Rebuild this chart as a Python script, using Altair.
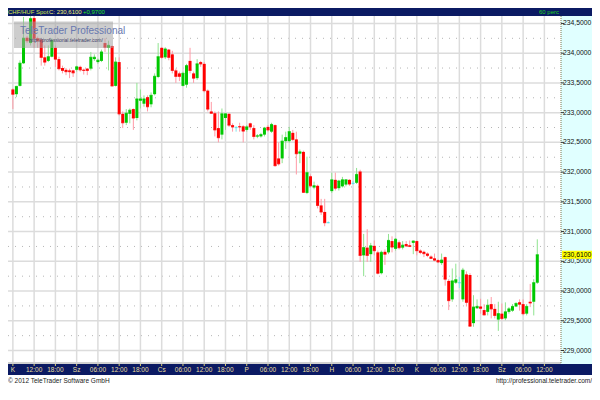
import altair as alt
import pandas as pd

# ---- hourly CHF/HUF candles ----
opens = [
    233.39, 233.31, 233.45, 233.83, 234.26, 234.17, 234.59, 234.25, 234.23, 233.93,
    233.87, 233.94, 234.09, 233.90, 233.75, 233.72, 233.71, 233.71, 233.72, 233.77,
    233.72, 233.74, 233.74, 233.90, 233.85, 233.87, 234.17, 234.09, 234.12, 233.45,
    233.85, 232.98, 232.83, 232.98, 233.06, 232.91, 233.20, 233.15, 233.26, 233.14,
    233.31, 233.60, 234.09, 233.93, 234.06, 233.98, 233.71, 233.66, 233.45, 233.47,
    233.87, 233.66, 233.58, 233.85, 233.82, 233.37, 233.02, 232.99, 232.74, 232.63,
    232.91, 232.98, 232.79, 232.75, 232.77, 232.77, 232.71, 232.82, 232.74, 232.60,
    232.60, 232.63, 232.76, 232.68, 232.79, 232.23, 232.23, 232.52, 232.52, 232.66,
    232.55, 232.31, 232.34, 231.65, 231.93, 231.74, 231.77, 231.44, 231.33, 231.15,
    231.68, 231.87, 231.73, 231.76, 231.79, 231.87, 231.81, 231.82, 232.01, 230.60,
    230.73, 230.62, 230.76, 230.65, 230.30, 230.66, 230.65, 230.84, 230.71, 230.82,
    230.73, 230.79, 230.77, 230.81, 230.84, 230.68, 230.66, 230.63, 230.58, 230.55,
    230.52, 230.47, 230.57, 230.17, 229.86, 230.14, 230.14, 229.86, 230.28, 230.27,
    229.46, 229.71, 229.74, 229.68, 229.65, 229.78, 229.70, 229.52, 229.62, 229.54,
    229.65, 229.67, 229.74, 229.81, 229.78, 229.62, 229.82, 229.82, 230.14,
]
highs = [
    233.41, 233.45, 233.88, 234.61, 234.29, 234.63, 234.63, 234.28, 234.26, 234.13,
    234.13, 234.25, 234.13, 233.94, 233.79, 233.75, 233.74, 233.72, 233.79, 233.79,
    233.74, 233.75, 234.02, 233.98, 233.91, 234.06, 234.25, 234.21, 234.13, 233.93,
    233.93, 233.02, 233.06, 233.07, 233.07, 233.50, 233.39, 233.29, 233.29, 233.34,
    233.66, 234.17, 234.10, 234.10, 234.07, 234.04, 233.74, 233.69, 233.69, 233.82,
    234.09, 233.69, 233.90, 233.87, 233.85, 233.39, 233.18, 233.02, 233.02, 233.07,
    232.99, 232.99, 232.82, 232.77, 232.83, 232.79, 232.79, 232.83, 232.79, 232.64,
    232.66, 232.76, 232.79, 232.83, 232.80, 232.50, 232.63, 232.68, 232.76, 232.71,
    232.68, 232.38, 232.36, 232.26, 231.96, 231.84, 231.79, 231.55, 231.55, 231.17,
    231.99, 231.99, 231.87, 231.92, 231.88, 231.88, 231.85, 232.07, 232.04, 230.96,
    231.04, 230.81, 230.85, 230.68, 230.68, 230.70, 230.96, 230.92, 230.89, 230.85,
    230.84, 230.84, 230.85, 230.85, 230.85, 230.70, 230.68, 230.65, 230.60, 230.63,
    230.54, 230.63, 230.58, 230.20, 230.38, 230.46, 230.24, 230.39, 230.33, 230.30,
    229.93, 229.86, 229.87, 229.78, 229.86, 229.90, 229.78, 229.82, 229.79, 229.81,
    229.73, 229.78, 229.81, 229.86, 229.86, 229.78, 230.12, 230.20, 230.87,
]
lows = [
    233.06, 233.26, 233.44, 233.82, 234.17, 234.13, 234.09, 234.09, 233.79, 233.79,
    233.85, 233.93, 233.77, 233.71, 233.66, 233.63, 233.58, 233.60, 233.69, 233.69,
    233.64, 233.63, 233.71, 233.87, 233.82, 233.85, 234.02, 233.71, 233.44, 233.44,
    232.95, 232.74, 232.79, 232.82, 232.71, 232.87, 233.07, 233.10, 233.02, 233.09,
    233.29, 233.58, 233.90, 233.90, 233.88, 233.66, 233.50, 233.53, 233.44, 233.42,
    233.66, 233.50, 233.55, 233.77, 233.34, 233.02, 232.98, 232.60, 232.50, 232.55,
    232.71, 232.76, 232.68, 232.68, 232.68, 232.50, 232.68, 232.71, 232.55, 232.57,
    232.58, 232.60, 232.68, 232.66, 232.09, 232.11, 232.15, 232.39, 232.49, 232.52,
    231.96, 232.15, 231.65, 231.63, 231.74, 231.71, 231.39, 231.28, 231.09, 231.14,
    231.65, 231.69, 231.69, 231.74, 231.76, 231.77, 231.79, 231.80, 230.49, 230.25,
    230.49, 230.49, 230.60, 230.28, 230.28, 230.44, 230.62, 230.65, 230.68, 230.70,
    230.70, 230.74, 230.74, 230.62, 230.60, 230.62, 230.57, 230.57, 230.54, 230.50,
    230.47, 230.44, 230.09, 229.68, 229.82, 230.12, 230.05, 229.82, 229.74, 229.40,
    229.40, 229.70, 229.62, 229.59, 229.59, 229.54, 229.54, 229.33, 229.51, 229.51,
    229.62, 229.65, 229.73, 229.67, 229.59, 229.59, 229.73, 229.59, 230.12,
]
closes = [
    233.31, 233.44, 233.83, 234.25, 234.21, 234.58, 234.25, 234.21, 233.93, 233.85,
    233.94, 234.21, 233.90, 233.74, 233.71, 233.69, 233.69, 233.67, 233.77, 233.72,
    233.71, 233.71, 233.93, 233.93, 233.88, 234.02, 234.10, 234.13, 233.45, 233.85,
    232.98, 232.83, 232.99, 233.04, 232.91, 233.23, 233.23, 233.23, 233.10, 233.29,
    233.61, 233.94, 233.93, 234.07, 233.93, 233.71, 233.61, 233.61, 233.66, 233.79,
    233.71, 233.58, 233.82, 233.82, 233.37, 233.06, 232.99, 232.71, 232.58, 232.98,
    232.98, 232.79, 232.76, 232.75, 232.76, 232.69, 232.76, 232.76, 232.60, 232.61,
    232.63, 232.74, 232.71, 232.80, 232.11, 232.14, 232.52, 232.58, 232.68, 232.55,
    232.31, 232.34, 231.66, 231.99, 231.77, 231.77, 231.44, 231.33, 231.15, 231.15,
    231.87, 231.73, 231.85, 231.87, 231.87, 231.80, 231.81, 231.96, 230.60, 230.73,
    230.60, 230.76, 230.68, 230.30, 230.65, 230.62, 230.85, 230.74, 230.87, 230.73,
    230.77, 230.76, 230.75, 230.84, 230.68, 230.65, 230.63, 230.60, 230.55, 230.52,
    230.49, 230.52, 230.20, 229.84, 230.17, 230.19, 230.14, 230.35, 229.81, 229.41,
    229.73, 229.74, 229.71, 229.60, 229.76, 229.70, 229.59, 229.62, 229.54, 229.65,
    229.70, 229.74, 229.79, 229.78, 229.62, 229.74, 229.80, 230.14, 230.61,
]

# ---- axes ----
tick_pos = [0, 6, 12, 18, 24, 30, 36, 42, 48, 54, 60, 66, 72, 78, 84, 90,
            96, 102, 108, 114, 120, 126, 132, 138, 144, 150]
tick_labels = ["K", "12:00", "18:00", "Sz", "06:00", "12:00", "18:00", "Cs",
               "06:00", "12:00", "18:00", "P", "06:00", "12:00", "18:00", "H",
               "06:00", "12:00", "18:00", "K", "06:00", "12:00", "18:00", "Sz",
               "06:00", "12:00"]
y_levels = [229.0, 229.5, 230.0, 230.5, 231.0, 231.5, 232.0, 232.5, 233.0,
            233.5, 234.0, 234.5]
minor_levels = [229.25, 229.75, 230.25, 230.75, 231.25, 231.75, 232.25,
                232.75, 233.25, 233.75, 234.25]
last_close = 230.61
change_text = "+0,9700"
title_text = "CHF/HUF Spot"
interval_text = "60 perc"

FONT = "Liberation Sans"
W, H = 553, 347          # plot area
PR = 31                  # right price panel width
NAVY = "#0b1a63"


def hu(v):
    return f"{v:.4f}".replace(".", ",")


df = pd.DataFrame({"i": list(range(len(opens))), "open": opens, "high": highs,
                   "low": lows, "close": closes})
df["kind"] = ["up" if c > o else ("down" if c < o else "flat")
              for o, c in zip(opens, closes)]

ticks_df = pd.DataFrame({"t": tick_pos, "label": tick_labels})
lev_df = pd.DataFrame({"level": y_levels, "label": [hu(v) for v in y_levels]})
minor_df = pd.DataFrame({"level": minor_levels})
last_df = pd.DataFrame({"level": [last_close], "lo": [last_close - 0.068],
                        "hi": [last_close + 0.068], "label": [hu(last_close)]})
one = pd.DataFrame({"d": [0]})

xs = alt.Scale(domain=[-1.376, 154.69], nice=False, zero=False, padding=0)
ys = alt.Scale(domain=[228.79, 234.625], nice=False, zero=False, padding=0)


def X(f):
    return alt.X(f, scale=xs, axis=None)


def Y(f):
    return alt.Y(f, scale=ys, axis=None)


def rect(x, x2, y, y2, **kw):
    return alt.Chart(one).mark_rect(**kw).encode(
        x=alt.value(x), x2=alt.value(x2), y=alt.value(y), y2=alt.value(y2))


def label(txt, x, y, **kw):
    return alt.Chart(one).mark_text(text=txt, font=FONT, **kw).encode(
        x=alt.value(x), y=alt.value(y))


panel_bg = rect(W, W + PR, 0, H + 1, color="#e0ffff")
header_bg = rect(0, W + PR, -8, 0, color=NAVY)
bottom_bg = rect(0, W + PR, H + 1, H + 12, color=NAVY)

minor_grid = alt.Chart(minor_df).mark_rule(
    color="#b5b5b5", strokeDash=[1, 6], strokeWidth=1).encode(
    y=Y("level:Q"), x=alt.value(0), x2=alt.value(W))
major_grid = alt.Chart(lev_df).mark_rule(color="#dcdcdc", strokeWidth=1.5).encode(
    y=Y("level:Q"), x=alt.value(0), x2=alt.value(W))
vert_grid = alt.Chart(ticks_df).mark_rule(color="#dcdcdc", strokeWidth=1.5).encode(
    x=X("t:Q"), y=alt.value(0), y2=alt.value(H))
bottom_line = rect(0, W, H - 1, H + 1, color="#d0d0d0")

wick_scale = alt.Scale(domain=["up", "down", "flat"],
                       range=["#8fe38f", "#ff9aa6", "#7fe6ee"])
body_scale = alt.Scale(domain=["up", "down", "flat"],
                       range=["#00c800", "#ff0000", "#3fe0ea"])

wicks = alt.Chart(df).mark_rule(strokeWidth=1).encode(
    x=X("i:Q"), y=Y("low:Q"), y2="high:Q",
    color=alt.Color("kind:N", scale=wick_scale, legend=None))
bodies = alt.Chart(df).mark_bar(size=3).encode(
    x=X("i:Q"), y=Y("open:Q"), y2="close:Q",
    color=alt.Color("kind:N", scale=body_scale, legend=None))
body_min = alt.Chart(df).mark_tick(orient="horizontal", size=3, thickness=1.2).encode(
    x=X("i:Q"), y=Y("close:Q"),
    color=alt.Color("kind:N", scale=body_scale, legend=None))

wm_box = rect(6, 105, 5.5, 32, color="#a4a4a4", opacity=0.55)
wm_text = label("TeleTrader Professional", 12, 14.5, align="left", baseline="middle",
                fontSize=10, color="#6878b0")
wm_url = label("http://professional.teletrader.com/", 21, 24, align="left",
               baseline="middle", fontSize=5, color="#3c3c66")

panel_border = alt.Chart(one).mark_rule(color="#7a7a50", strokeDash=[1, 1]).encode(
    x=alt.value(W), y=alt.value(0), y2=alt.value(H + 1))
ytick_marks = alt.Chart(lev_df).mark_rule(color="#333333").encode(
    y=Y("level:Q"), x=alt.value(W), x2=alt.value(W + 3))
ylabels = alt.Chart(lev_df).mark_text(
    align="left", baseline="middle", font=FONT, fontSize=6.8, color="#111111").encode(
    y=Y("level:Q"), x=alt.value(W + 2), text="label:N")
last_box = alt.Chart(last_df).mark_rect(color="#ffff00").encode(
    y=Y("lo:Q"), y2="hi:Q", x=alt.value(W + 1), x2=alt.value(W + PR))
last_lbl = alt.Chart(last_df).mark_text(
    align="left", baseline="middle", font=FONT, fontSize=6.8, color="#000000").encode(
    y=Y("level:Q"), x=alt.value(W + 2), text="label:N")

h1 = label(title_text, 0, -4, align="left", baseline="middle", fontSize=6,
           color="#d4e84a")
h2 = label("C: " + hu(last_close), 41, -4, align="left", baseline="middle",
           fontSize=6, color="#f2f27a")
h3 = label(change_text, 75, -4, align="left", baseline="middle", fontSize=6,
           color="#22e622")
h4 = label(interval_text, W - 2, -4, align="right", baseline="middle", fontSize=6,
           color="#22d022")

xtick_marks = alt.Chart(ticks_df).mark_rule(color="#d8cc70").encode(
    x=X("t:Q"), y=alt.value(H + 1), y2=alt.value(H + 3))
xlabels = alt.Chart(ticks_df).mark_text(
    align="center", baseline="middle", font=FONT, fontSize=6.5, color="#e8df9e").encode(
    x=X("t:Q"), y=alt.value(H + 6.5), text="label:N")

foot1 = label("\u00a9 2012 TeleTrader Software GmbH", 0, H + 17.5, align="left",
              baseline="middle", fontSize=6.5, color="#1a1a1a")
foot2 = label("http://professional.teletrader.com/", W + PR, H + 17.5, align="right",
              baseline="middle", fontSize=6.5, color="#1a1a1a")

chart = alt.layer(
    panel_bg, minor_grid, major_grid, vert_grid, bottom_line,
    wicks, bodies, body_min,
    wm_box, wm_text, wm_url,
    panel_border, ytick_marks, ylabels, last_box, last_lbl,
    header_bg, h1, h2, h3, h4,
    bottom_bg, xtick_marks, xlabels, foot1, foot2,
).resolve_scale(color="independent").properties(
    width=W, height=H,
    autosize=alt.AutoSizeParams(type="none"),
    padding={"left": 0, "top": 8, "right": PR, "bottom": 23},
    background="white",
).configure_view(strokeWidth=0)

chart.save("out.html", embed_options={"renderer": "svg", "actions": False})
